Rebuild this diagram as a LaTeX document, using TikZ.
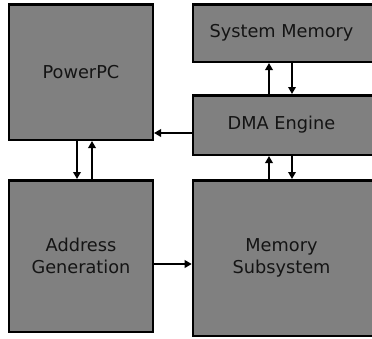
\documentclass[tikz,border=0pt]{standalone}
\usepackage{fontspec}
\setmainfont{DejaVu Sans}
\usetikzlibrary{arrows.meta}

\tikzset{
  blockbox/.style={draw=black,line width=2.5bp,fill={rgb,255:red,128;green,128;blue,128},
    align=center,text={rgb,255:red,20;green,20;blue,20},inner sep=0pt,
    font=\fontsize{17.8}{22}\selectfont},
  blocktext/.style={text={rgb,255:red,20;green,20;blue,20},inner sep=0pt,
    align=center,font=\fontsize{17.8}{22}\selectfont},
  arr/.style={line width=2.3bp,-{Triangle[length=7bp,width=7.5bp]}}
}

\begin{document}
\begin{tikzpicture}[x=1bp,y=1bp,yscale=-1,xscale=1]
\useasboundingbox (0,0) rectangle (372,339);

%Shape: PowerPC
\node [blockbox,minimum width=143.5bp,minimum height=135.5bp] (ppc) at (81,72) {PowerPC};
%Shape: Address Generation
\node [blockbox,minimum width=143.5bp,minimum height=151.5bp] (addr) at (81,256) {Address\\Generation};
%Shape: System Memory
\node [blockbox,minimum width=180bp,minimum height=57.5bp] (sysmem) at (283,33) {};
\node [blocktext] (sysmemtxt) at (281.5,33) {System Memory};
%Shape: DMA Engine
\node [blockbox,minimum width=180bp,minimum height=59.5bp] (dma) at (283,125) {};
\node [blocktext] (dmatxt) at (281.5,125) {DMA Engine};
%Shape: Memory Subsystem
\node [blockbox,minimum width=180bp,minimum height=155.5bp] (memsub) at (283,258) {};
\node [blocktext] (memsubtxt) at (281.5,258) {Memory\\Subsystem};

%Straight Lines: PowerPC <-> Address Generation
\draw [arr] ([xshift=-4bp]ppc.south) -- ([xshift=-4bp]addr.north);
\draw [arr] ([xshift=11bp]addr.north) -- ([xshift=11bp]ppc.south);
%Straight Lines: DMA Engine -> PowerPC
\coordinate (dmaout) at ([yshift=8bp]dma.west);
\draw [arr] (dmaout) -- (dmaout -| ppc.east);
%Straight Lines: Address Generation -> Memory Subsystem
\coordinate (addrout) at ([yshift=8bp]addr.east);
\draw [arr] (addrout) -- (addrout -| memsub.west);
%Straight Lines: DMA Engine <-> System Memory
\draw [arr] ([xshift=-14bp]dma.north) -- ([xshift=-14bp]sysmem.south);
\draw [arr] ([xshift=9bp]sysmem.south) -- ([xshift=9bp]dma.north);
%Straight Lines: Memory Subsystem <-> DMA Engine
\draw [arr] ([xshift=-14bp]memsub.north) -- ([xshift=-14bp]dma.south);
\draw [arr] ([xshift=9bp]dma.south) -- ([xshift=9bp]memsub.north);

\end{tikzpicture}
\end{document}
